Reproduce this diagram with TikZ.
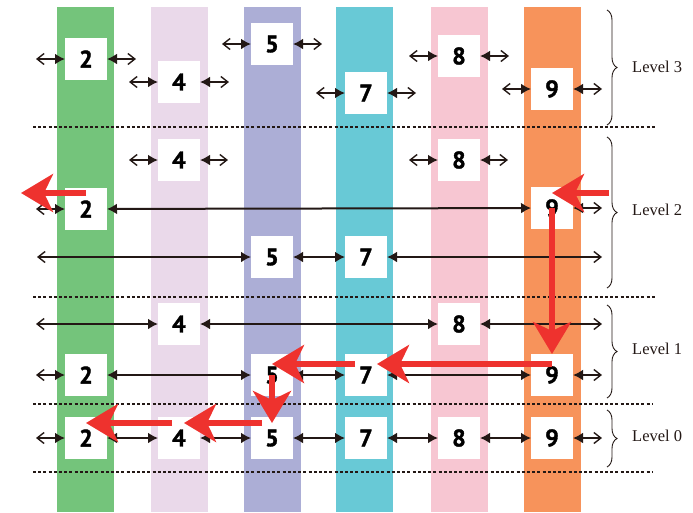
\documentclass[tikz,border=0pt]{standalone}
\usepackage{fontspec}
\setmainfont{Liberation Serif}
\newfontfamily\numfont{PT Sans}[UprightFont={* Bold}, FakeBold=1.5]
\usetikzlibrary{arrows.meta,decorations.pathreplacing}
\definecolor{cgreen}{RGB}{116,196,123}
\definecolor{clav}{RGB}{234,217,234}
\definecolor{cperi}{RGB}{172,174,214}
\definecolor{cteal}{RGB}{104,201,214}
\definecolor{cpink}{RGB}{247,198,210}
\definecolor{corange}{RGB}{247,147,91}
\definecolor{cred}{RGB}{238,50,46}
\definecolor{ink}{RGB}{35,24,21}
\tikzset{
  num/.style={fill=white, minimum size=42pt, inner sep=0pt, outer sep=0pt,
    font=\numfont\fontsize{24}{24}\selectfont},
  lnk/.style={draw=ink, line width=2pt, {Latex[length=10pt,width=11pt]}-{Latex[length=10pt,width=11pt]}},
  fre/.style={draw=ink, line width=2pt, {Straight Barb[length=7pt,width=11pt,line width=1.4pt]}-{Latex[length=10pt,width=11pt]}},
  sep/.style={draw=ink, line width=1.2pt, dash pattern=on 3pt off 2.2pt},
  redarr/.style={draw=cred, line width=6pt, -{Stealth[length=32pt,width=38pt,inset=9pt]}},
  brc/.style={draw=ink, line width=0.9pt, decorate, decoration={brace, amplitude=10pt}},
  lvl/.style={anchor=west, inner sep=0pt, font=\fontsize{16.5}{16.5}\selectfont, text=ink}
}
\begin{document}
\begin{tikzpicture}[x=1pt,y=-1pt]
\useasboundingbox (0,0) rectangle (693,512);
% columns
\fill[cgreen]  (57,7) rectangle (114,512);
\fill[clav]    (151,7) rectangle (208,512);
\fill[cperi]   (244,7) rectangle (301,512);
\fill[cteal]   (336,7) rectangle (393,512);
\fill[cpink]   (431,7) rectangle (488,512);
\fill[corange] (524,7) rectangle (581,512);
% separators
\coordinate (d1a) at (33,127); \coordinate (d1b) at (655,127);
\coordinate (d2a) at (33,297); \coordinate (d2b) at (655,297);
\coordinate (d3a) at (33,404); \coordinate (d3b) at (652,404);
\coordinate (d4a) at (33,472); \coordinate (d4b) at (652,472);
\draw[sep] (d1a) -- (d1b);
\draw[sep] (d2a) -- (d2b);
\draw[sep] (d3a) -- (d3b);
\draw[sep] (d4a) -- (d4b);
% Level 3 nodes
\foreach \n/\x/\y in {2/86/59, 4/179/82, 5/272/44, 7/366/93, 8/459/56, 9/552/89}{
  \node[num] (n3-\n) at (\x,\y) {\n};
  \coordinate (s3-\n-l) at (\x-50,\y);
  \coordinate (s3-\n-r) at (\x+50,\y);
  \draw[fre] (s3-\n-l) -- (n3-\n);
  \draw[fre] (s3-\n-r) -- (n3-\n);
}
% Level 2 nodes
\node[num] (n2-4) at (179,160) {4};
\node[num] (n2-8) at (459,160) {8};
\node[num] (n2-2) at (86,209) {2};
\node[num] (n2-9) at (552,208) {9};
\node[num] (n2-5) at (272,257) {5};
\node[num] (n2-7) at (366,257) {7};
\coordinate (s2-4-l) at (129,160); \coordinate (s2-4-r) at (228,160);
\coordinate (s2-8-l) at (409,160); \coordinate (s2-8-r) at (508,160);
\coordinate (s2-2-l) at (36,209);  \coordinate (s2-9-r) at (602,208);
\coordinate (s2-5-l) at (37,257);  \coordinate (s2-7-r) at (602,257);
\draw[fre] (s2-4-l) -- (n2-4); \draw[fre] (s2-4-r) -- (n2-4);
\draw[fre] (s2-8-l) -- (n2-8); \draw[fre] (s2-8-r) -- (n2-8);
\draw[fre] (s2-2-l) -- (n2-2); \draw[fre] (s2-9-r) -- (n2-9);
\draw[lnk] (n2-2) -- (n2-9);
\draw[fre] (s2-5-l) -- (n2-5);
\draw[lnk] (n2-5) -- (n2-7);
\draw[fre] (s2-7-r) -- (n2-7);
% Level 1 nodes
\node[num] (n1-4) at (179,324) {4};
\node[num] (n1-8) at (459,324) {8};
\node[num] (n1-2) at (86,375) {2};
\node[num] (n1-5) at (272,375) {5};
\node[num] (n1-7) at (366,375) {7};
\node[num] (n1-9) at (552,375) {9};
\coordinate (s1-4-l) at (36,324); \coordinate (s1-8-r) at (602,324);
\coordinate (s1-2-l) at (36,375); \coordinate (s1-9-r) at (602,375);
\draw[fre] (s1-4-l) -- (n1-4);
\draw[lnk] (n1-4) -- (n1-8);
\draw[fre] (s1-8-r) -- (n1-8);
\draw[fre] (s1-2-l) -- (n1-2);
\draw[lnk] (n1-2) -- (n1-5);
\draw[lnk] (n1-5) -- (n1-7);
\draw[lnk] (n1-7) -- (n1-9);
\draw[fre] (s1-9-r) -- (n1-9);
% Level 0 nodes
\foreach \n/\x in {2/86, 4/179, 5/272, 7/366, 8/459, 9/552}{
  \node[num] (n0-\n) at (\x,438) {\n};
}
\coordinate (s0-2-l) at (36,438); \coordinate (s0-9-r) at (602,438);
\draw[fre] (s0-2-l) -- (n0-2);
\draw[lnk] (n0-2) -- (n0-4);
\draw[lnk] (n0-4) -- (n0-5);
\draw[lnk] (n0-5) -- (n0-7);
\draw[lnk] (n0-7) -- (n0-8);
\draw[lnk] (n0-8) -- (n0-9);
\draw[fre] (s0-9-r) -- (n0-9);
% red search path
\coordinate (r1e) at (21,193);
\coordinate (r2s) at (609,193);
\draw[redarr] ([yshift=16pt]n2-2.center) -- (r1e);
\draw[redarr] (r2s) -- ([yshift=15pt]n2-9.center);
\draw[redarr] (n2-9.center) -- (n1-9.north);
\draw[redarr] ([yshift=11pt]n1-9.center) -- ([xshift=11pt,yshift=11pt]n1-7.center);
\draw[redarr] ([xshift=-11pt,yshift=11pt]n1-7.center) -- ([yshift=11pt]n1-5.center);
\draw[redarr] (n1-5.center) -- ([yshift=-6pt]n0-5.north);
\draw[redarr] ([xshift=-10pt,yshift=15pt]n0-5.center) -- ([xshift=5pt,yshift=15pt]n0-4.center);
\draw[redarr] ([xshift=-7pt,yshift=15pt]n0-4.center) -- ([yshift=15pt]n0-2.center);
% braces and labels
\coordinate (b3a) at (607,10);  \coordinate (b3b) at (607,125);
\coordinate (b2a) at (607,137); \coordinate (b2b) at (607,288);
\coordinate (b1a) at (607,305); \coordinate (b1b) at (607,398);
\coordinate (b0a) at (607,410); \coordinate (b0b) at (607,467);
\draw[brc] (b3a) -- (b3b);
\draw[brc] (b2a) -- (b2b);
\draw[brc] (b1a) -- (b1b);
\draw[brc] (b0a) -- (b0b);
\node[lvl] (L3) at (632,67) {Level 3};
\node[lvl] (L2) at (632,210) {Level 2};
\node[lvl] (L1) at (632,349) {Level 1};
\node[lvl] (L0) at (632,436) {Level 0};
\end{tikzpicture}
\end{document}
